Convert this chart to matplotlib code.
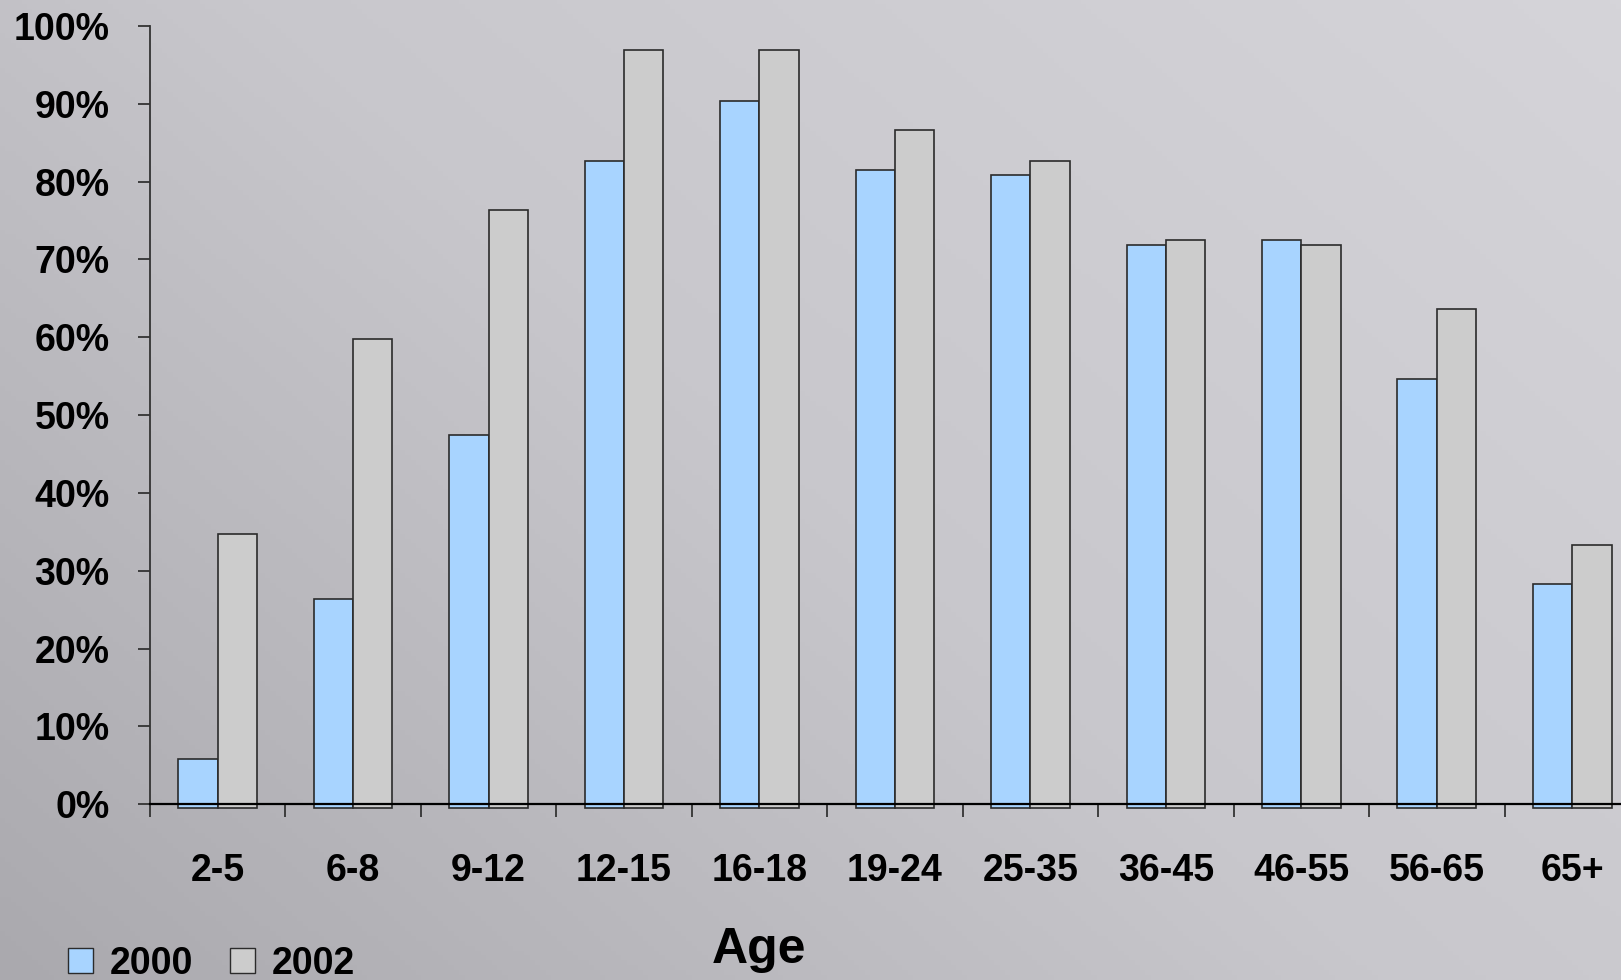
import matplotlib
matplotlib.use("Agg")
import matplotlib.pyplot as plt
from matplotlib.patches import Patch
from matplotlib.ticker import FixedLocator, PercentFormatter
import numpy as np

plt.rcParams['font.family'] = ['Liberation Sans', 'DejaVu Sans']
plt.rcParams['font.weight'] = 'bold'

# Data (percent)
age_groups = ["2-5", "6-8", "9-12", "12-15", "16-18", "19-24",
              "25-35", "36-45", "46-55", "56-65", "65+"]
share_2000 = [5.8, 26.4, 47.5, 82.7, 90.4, 81.5, 80.9, 71.8, 72.5, 54.6, 28.3]
share_2002 = [34.7, 59.8, 76.4, 96.9, 96.9, 86.6, 82.7, 72.5, 71.8, 63.6, 33.3]
years = ["2000", "2002"]

fig = plt.figure(figsize=(16.21, 9.8), dpi=100)

# brushed-metal-ish gray background as a smooth gradient
bg = fig.add_axes([0, 0, 1, 1], zorder=-10)
gx, gy = np.meshgrid(np.linspace(0, 1, 300), np.linspace(0, 1, 200))
shade = 0.5 * gx + 0.35 * (1 - gy)
bg.imshow(shade, cmap=matplotlib.colors.LinearSegmentedColormap.from_list(
    "metal", ["#aaa9ae", "#c8c7cc", "#d5d4d9"]), aspect='auto',
    extent=[0, 1, 0, 1], origin='upper')
bg.axis('off')

ax = fig.add_axes([0.0925, 0.1793, 0.9075, 0.7943])
ax.patch.set_alpha(0)

x = np.arange(len(age_groups))
w = 0.29
base = -0.5
ax.bar(x - w / 2, np.array(share_2000) - base, w, bottom=base, color="#a8d4ff",
       edgecolor="#2b2b2b", linewidth=1.2, clip_on=False, zorder=3)
ax.bar(x + w / 2, np.array(share_2002) - base, w, bottom=base, color="#cccccc",
       edgecolor="#2b2b2b", linewidth=1.2, clip_on=False, zorder=3)

ax.set_xlim(-0.5, 10.36)
ax.set_ylim(0, 100)
ax.set_yticks(np.arange(0, 101, 10))
ax.yaxis.set_major_formatter(PercentFormatter(decimals=0))
ax.set_xticks(x)
ax.set_xticklabels(age_groups)
ax.xaxis.set_minor_locator(FixedLocator(np.arange(-0.5, 11, 1)))

ax.tick_params(axis='y', direction='out', length=9, width=1.3, pad=20,
               labelsize=27, colors='#333333', labelcolor='black')
ax.tick_params(axis='x', which='major', length=0, pad=35, labelsize=27)
ax.tick_params(axis='x', which='minor', direction='out', length=9, width=1.3,
               colors='#333333')
for lab in ax.get_xticklabels() + ax.get_yticklabels():
    lab.set_fontweight('bold')

for s in ['top', 'right']:
    ax.spines[s].set_visible(False)
ax.spines['left'].set_color('#333333')
ax.spines['left'].set_linewidth(1.3)
ax.spines['bottom'].set_color('black')
ax.spines['bottom'].set_linewidth(1.6)
ax.spines['bottom'].set_zorder(4)

fig.text(0.468, 0.017, "Age", fontsize=36, fontweight='bold', ha='center', va='baseline')

handles = [Patch(facecolor="#a8d4ff", edgecolor="#2b2b2b"),
           Patch(facecolor="#cccccc", edgecolor="#2b2b2b")]
fig.legend(handles, years, loc='lower left', bbox_to_anchor=(0.021, -0.036),
           ncol=2, frameon=False, handlelength=0.66, handleheight=0.66,
           handletextpad=0.45, columnspacing=1.0, prop={'weight': 'bold', 'size': 27})

fig.savefig("out.png", dpi=100)
